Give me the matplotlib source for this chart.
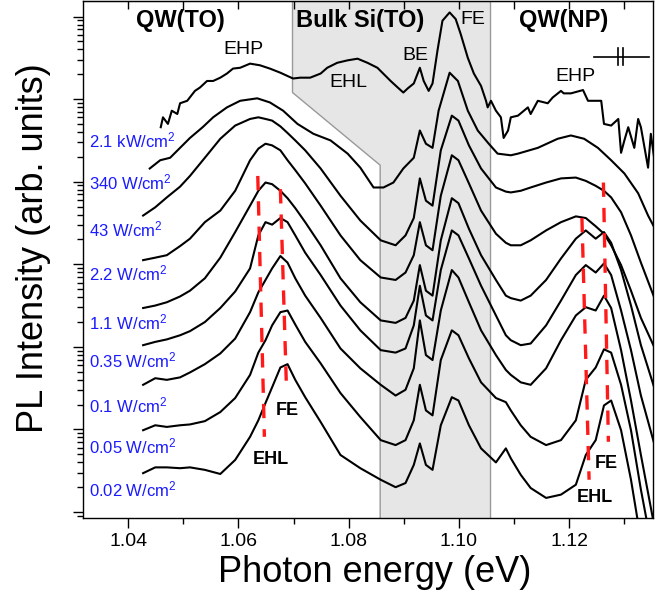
import numpy as np
import matplotlib.pyplot as plt
from matplotlib.ticker import MultipleLocator, LogLocator, NullFormatter, FormatStrFormatter

plt.rcParams['font.family'] = ['Liberation Sans', 'DejaVu Sans']
plt.rcParams['mathtext.fontset'] = 'custom'
plt.rcParams['mathtext.rm'] = 'Liberation Sans'
plt.rcParams['mathtext.it'] = 'Liberation Sans:italic'
plt.rcParams['mathtext.bf'] = 'Liberation Sans:bold'

# photon energy (eV) and log10 PL intensity (arb. units), spectra stacked top to bottom
e_2100 = [1.0459, 1.0463, 1.0472, 1.0479, 1.0489, 1.0494, 1.0507, 1.0521, 1.0530, 1.0543,
          1.0554, 1.0567, 1.0579, 1.0590, 1.0603, 1.0621, 1.0639, 1.0657, 1.0676, 1.0689,
          1.0699, 1.0712, 1.0730, 1.0749, 1.0761, 1.0779, 1.0798, 1.0816, 1.0834, 1.0852,
          1.0858, 1.0876, 1.0889, 1.0899, 1.0907, 1.0918, 1.0929, 1.0936, 1.0945, 1.0952,
          1.0961, 1.0970, 1.0983, 1.0994, 1.1003, 1.1016, 1.1027, 1.1040, 1.1049, 1.1052,
          1.1058, 1.1067, 1.1076, 1.1081, 1.1089, 1.1094, 1.1107, 1.1125, 1.1130, 1.1143,
          1.1161, 1.1170, 1.1185, 1.1190, 1.1203, 1.1225, 1.1234, 1.1258, 1.1263, 1.1276,
          1.1289, 1.1294, 1.1300, 1.1307, 1.1318, 1.1325, 1.1330, 1.1343, 1.1348, 1.1354]
i_2100 = [4.66, 4.78, 4.70, 4.86, 4.82, 4.95, 4.98, 5.10, 5.14, 5.22,
          5.22, 5.26, 5.31, 5.37, 5.38, 5.43, 5.41, 5.37, 5.32, 5.28,
          5.25, 5.26, 5.26, 5.31, 5.38, 5.44, 5.47, 5.49, 5.44, 5.38,
          5.34, 5.22, 5.14, 5.08, 5.13, 5.19, 5.38, 5.22, 5.10, 5.19,
          5.59, 5.95, 6.05, 5.97, 5.79, 5.50, 5.31, 5.16, 4.98, 4.90,
          4.98, 4.86, 4.78, 4.53, 4.62, 4.78, 4.80, 4.90, 4.82, 4.98,
          4.95, 5.02, 5.10, 5.07, 5.07, 5.11, 4.98, 4.98, 4.70, 4.68,
          4.76, 4.35, 4.50, 4.66, 4.41, 4.76, 4.66, 4.17, 4.58, 4.29]

e_340 = [1.0439, 1.0458, 1.0476, 1.0494, 1.0512, 1.0535, 1.0554, 1.0579, 1.0603, 1.0634,
         1.0657, 1.0681, 1.0707, 1.0736, 1.0767, 1.0798, 1.0821, 1.0845, 1.0863, 1.0881,
         1.0899, 1.0918, 1.0929, 1.0940, 1.0952, 1.0963, 1.0983, 1.0998, 1.1016, 1.1034,
         1.1054, 1.1070, 1.1094, 1.1107, 1.1143, 1.1179, 1.1203, 1.1227, 1.1252, 1.1276,
         1.1300, 1.1325, 1.1343, 1.1354]
i_340 = [4.16, 4.26, 4.29, 4.41, 4.53, 4.66, 4.78, 4.90, 4.98, 5.01,
         4.96, 4.86, 4.70, 4.58, 4.50, 4.34, 4.17, 3.93, 3.93, 3.99,
         4.16, 4.29, 4.62, 4.46, 4.41, 4.86, 5.32, 5.22, 4.86, 4.62,
         4.46, 4.34, 4.32, 4.34, 4.41, 4.52, 4.56, 4.52, 4.41, 4.26,
         4.10, 3.86, 3.59, 3.45]

# the lower seven spectra are read at the same energies
e_low = [1.0427, 1.0449, 1.0470, 1.0494, 1.0512, 1.0539, 1.0567, 1.0594, 1.0621, 1.0636,
         1.0649, 1.0661, 1.0676, 1.0689, 1.0703, 1.0721, 1.0749, 1.0785, 1.0821, 1.0858,
         1.0885, 1.0903, 1.0918, 1.0929, 1.0940, 1.0952, 1.0967, 1.0987, 1.0999, 1.1018,
         1.1040, 1.1067, 1.1085, 1.1094, 1.1112, 1.1130, 1.1158, 1.1185, 1.1212, 1.1230,
         1.1248, 1.1263, 1.1276, 1.1294, 1.1312, 1.1330, 1.1354]
i_43 = [3.59, 3.69, 3.81, 3.94, 4.07, 4.29, 4.52, 4.68, 4.76, 4.78,
        4.76, 4.74, 4.67, 4.59, 4.50, 4.38, 4.16, 3.83, 3.53, 3.29,
        3.23, 3.35, 3.56, 4.04, 3.77, 3.71, 4.38, 4.80, 4.74, 4.44,
        4.16, 3.93, 3.88, 3.87, 3.89, 3.93, 3.99, 4.04, 4.05, 4.01,
        3.95, 3.89, 3.81, 3.63, 3.35, 3.02, 2.60]
i_2p2 = [3.05, 3.08, 3.11, 3.22, 3.31, 3.51, 3.65, 3.89, 4.26, 4.40,
         4.46, 4.44, 4.38, 4.26, 4.14, 3.98, 3.71, 3.35, 3.05, 2.84,
         2.81, 2.90, 3.11, 3.51, 3.23, 3.17, 3.83, 4.32, 4.26, 3.98,
         3.65, 3.37, 3.26, 3.23, 3.23, 3.29, 3.41, 3.51, 3.58, 3.56,
         3.46, 3.37, 3.23, 2.99, 2.68, 2.35, 2.00]
i_1p1 = [2.47, 2.50, 2.54, 2.61, 2.68, 2.83, 3.08, 3.39, 3.71, 3.89,
         3.99, 3.97, 3.89, 3.80, 3.68, 3.51, 3.23, 2.83, 2.54, 2.32,
         2.29, 2.35, 2.56, 2.99, 2.68, 2.62, 3.29, 3.80, 3.74, 3.43,
         3.11, 2.81, 2.62, 2.59, 2.56, 2.62, 2.81, 3.07, 3.31, 3.41,
         3.31, 3.39, 3.26, 2.93, 2.50, 2.02, 1.51]
i_0p35 = [2.02, 2.06, 2.09, 2.14, 2.19, 2.30, 2.47, 2.67, 2.95, 3.35,
          3.51, 3.48, 3.56, 3.51, 3.35, 3.14, 2.87, 2.50, 2.20, 1.96,
          1.93, 1.98, 2.26, 2.74, 2.38, 2.32, 2.93, 3.41, 3.35, 3.07,
          2.74, 2.38, 2.14, 2.08, 2.02, 2.04, 2.26, 2.56, 2.87, 2.99,
          2.90, 3.01, 2.87, 2.44, 1.96, 1.41, 0.83]
i_0p1 = [1.54, 1.62, 1.60, 1.63, 1.69, 1.79, 1.92, 2.10, 2.42, 2.66,
         2.81, 2.95, 3.10, 3.02, 2.83, 2.62, 2.35, 1.98, 1.74, 1.54,
         1.41, 1.48, 1.74, 2.32, 1.90, 1.84, 2.44, 2.93, 2.84, 2.54,
         2.20, 1.90, 1.72, 1.66, 1.57, 1.54, 1.74, 2.08, 2.38, 2.48,
         2.44, 2.62, 2.47, 1.96, 1.35, 0.69, -0.16]
i_0p05 = [0.99, 1.05, 1.03, 1.05, 1.06, 1.10, 1.21, 1.38, 1.66, 1.93,
          2.08, 2.26, 2.42, 2.44, 2.27, 2.06, 1.80, 1.44, 1.15, 0.87,
          0.81, 0.87, 1.11, 1.54, 1.23, 1.17, 1.84, 2.20, 2.14, 1.86,
          1.57, 1.38, 1.33, 1.23, 1.05, 0.91, 0.81, 0.87, 1.11, 1.60,
          1.75, 1.97, 1.93, 1.54, 0.99, 0.27, -0.58]
i_0p02 = [0.47, 0.54, 0.54, 0.53, 0.54, 0.51, 0.46, 0.63, 0.91, 1.11,
          1.32, 1.51, 1.75, 1.79, 1.60, 1.39, 1.09, 0.69, 0.53, 0.39,
          0.30, 0.35, 0.57, 0.83, 0.57, 0.51, 1.05, 1.39, 1.35, 1.05,
          0.77, 0.60, 0.77, 0.65, 0.45, 0.29, 0.17, 0.21, 0.33, 0.69,
          0.87, 1.29, 1.35, 0.99, 0.39, -0.34, -1.31]

spectra = [(e_2100, i_2100), (e_340, i_340)] + [(e_low, s) for s in
           (i_43, i_2p2, i_1p1, i_0p35, i_0p1, i_0p05, i_0p02)]

power_labels = ['2.1 kW/cm$^{2}$', '340 W/cm$^{2}$', '43 W/cm$^{2}$', '2.2 W/cm$^{2}$',
                '1.1 W/cm$^{2}$', '0.35 W/cm$^{2}$', '0.1 W/cm$^{2}$', '0.05 W/cm$^{2}$',
                '0.02 W/cm$^{2}$']
label_logy = [4.50, 3.99, 3.42, 2.89, 2.30, 1.84, 1.29, 0.79, 0.27]

# EHL / FE peak tracking lines: (E start, logI start, E end, logI end)
track_lines = [(1.0635, 4.07, 1.0647, 0.91),
               (1.0676, 3.91, 1.0687, 1.51),
               (1.1223, 3.56, 1.1236, 0.39),
               (1.1262, 3.99, 1.1271, 0.85)]

# Bulk Si(TO) band outline
bulk_e = [1.0698, 1.0698, 1.0857, 1.0857, 1.1056, 1.1056]
bulk_logy = [6.19, 5.08, 4.20, -0.073, -0.073, 6.19]

ylo, yhi = 10 ** -0.073, 10 ** 6.19

fig = plt.figure(figsize=(6.68, 5.93), dpi=100)
ax = fig.add_axes([0.1243, 0.1265, 0.8533, 0.872])
ax.set_yscale('log')

ax.fill(bulk_e, 10 ** np.array(bulk_logy), color='#e6e6e6', zorder=0, lw=0)
ax.plot(bulk_e[:4], 10 ** np.array(bulk_logy[:4]), color='#999999', lw=1, zorder=1)
ax.plot(bulk_e[4:], 10 ** np.array(bulk_logy[4:]), color='#999999', lw=1, zorder=1)

for e, li in spectra:
    ax.plot(e, 10 ** np.array(li), color='k', lw=1.5, zorder=3)

for x0, y0, x1, y1 in track_lines:
    ax.plot([x0, x1], [10 ** y0, 10 ** y1], color='#ff1a1a', lw=2.4,
            dashes=(4.3, 3.3), zorder=4)

for txt, ly in zip(power_labels, label_logy):
    ax.text(1.0329, 10 ** ly, txt, color='#1a1aff', fontsize=12, ha='left', va='center')

ax.text(1.0494, 10 ** 5.95, 'QW(TO)', fontsize=17, fontweight='bold', ha='center', va='center')
ax.text(1.0821, 10 ** 5.95, 'Bulk Si(TO)', fontsize=17, fontweight='bold', ha='center', va='center')
ax.text(1.1190, 10 ** 5.95, 'QW(NP)', fontsize=17, fontweight='bold', ha='center', va='center')
ax.text(1.0609, 10 ** 5.60, 'EHP', fontsize=14, ha='center', va='center')
ax.text(1.0799, 10 ** 5.20, 'EHL', fontsize=14, ha='center', va='center')
ax.text(1.0921, 10 ** 5.53, 'BE', fontsize=14, ha='center', va='center')
ax.text(1.1025, 10 ** 5.97, 'FE', fontsize=14, ha='center', va='center')
ax.text(1.1212, 10 ** 5.28, 'EHP', fontsize=14, ha='center', va='center')
ax.text(1.0689, 10 ** 1.23, 'FE', fontsize=13, fontweight='bold', ha='center', va='center')
ax.text(1.0658, 10 ** 0.63, 'EHL', fontsize=13, fontweight='bold', ha='center', va='center')
ax.text(1.1268, 10 ** 0.59, 'FE', fontsize=13, fontweight='bold', ha='center', va='center')
ax.text(1.1247, 10 ** 0.17, 'EHL', fontsize=13, fontweight='bold', ha='center', va='center')

# axis break mark
ax.plot([1.1245, 1.1345], [10 ** 5.51, 10 ** 5.51], color='k', lw=1.2)
for xb in (1.1289, 1.1297):
    ax.plot([xb, xb], [10 ** 5.41, 10 ** 5.62], color='k', lw=1.2)

ax.set_xlim(1.0318, 1.1352)
ax.set_ylim(ylo, yhi)

ax.xaxis.set_major_locator(MultipleLocator(0.02))
ax.xaxis.set_minor_locator(MultipleLocator(0.01))
ax.xaxis.set_major_formatter(FormatStrFormatter('%.2f'))
ax.yaxis.set_major_locator(LogLocator(base=10, numticks=20))
ax.yaxis.set_minor_locator(LogLocator(base=10, subs=np.arange(2, 10), numticks=20))
ax.yaxis.set_major_formatter(NullFormatter())
ax.yaxis.set_minor_formatter(NullFormatter())
ax.tick_params(axis='x', which='major', direction='out', length=7, width=1, labelsize=14, pad=3.5)
ax.tick_params(axis='x', which='minor', direction='out', length=4, width=1)
ax.tick_params(axis='y', which='major', direction='out', length=7, width=1)
ax.tick_params(axis='y', which='minor', direction='out', length=4, width=1)
ax.tick_params(right=False, top=False)

top = ax.secondary_xaxis('top')
top.xaxis.set_major_locator(MultipleLocator(0.01))
top.xaxis.set_major_formatter(NullFormatter())
top.tick_params(direction='in', length=6, width=1)

for s in ax.spines.values():
    s.set_linewidth(1.0)

fig.text(0.561, 0.0185, 'Photon energy (eV)', fontsize=26, ha='center', va='baseline')
fig.text(0.050, 0.582, 'PL Intensity (arb. units)', fontsize=26, rotation=90,
         ha='center', va='center')

fig.savefig('out.png', dpi=100)
